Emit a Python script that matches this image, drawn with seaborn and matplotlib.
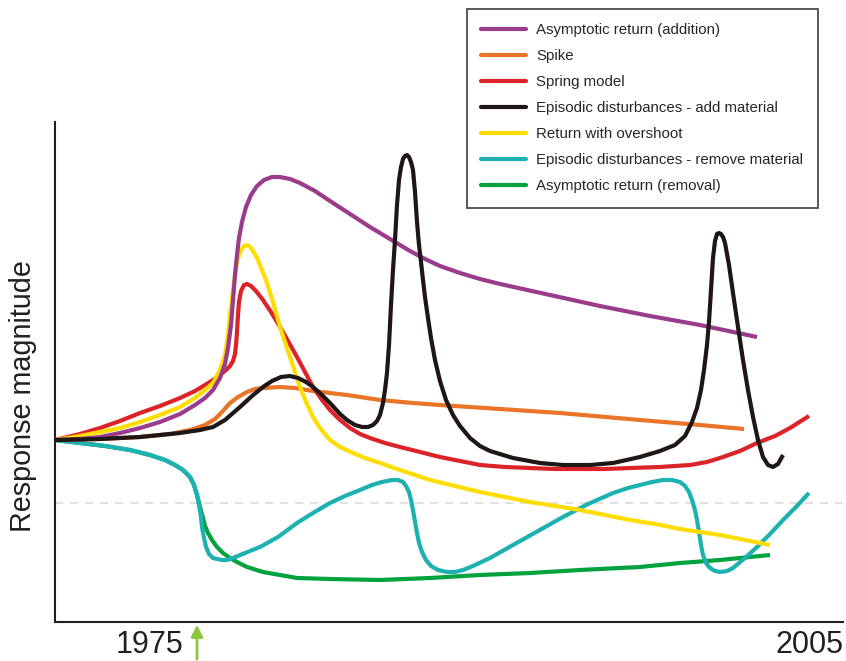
import numpy as np
import pandas as pd
import seaborn as sns
import matplotlib.pyplot as plt

# curves, x and y in picture pixels (y grows downward)
purple_x = [55, 80, 100, 120, 140, 160, 180, 195, 205, 213, 220, 225, 228, 231, 233, 235, 237, 239, 242, 246, 251, 257, 264, 272, 280, 290, 300, 315, 330, 350, 370, 390, 410, 425, 440, 460, 480, 500, 550, 600, 650, 700, 757]
purple_y = [440, 439, 437, 433, 428, 422, 414, 405, 398, 390, 378, 364, 348, 325, 300, 275, 255, 238, 222, 207, 195, 186, 180, 177, 177, 179, 183, 191, 201, 214, 227, 239, 251, 259, 266, 273, 279, 284, 295, 306, 316, 325, 337]

orange_x = [55, 100, 140, 170, 190, 205, 215, 222, 230, 238, 247, 255, 263, 280, 295, 313, 347, 380, 413, 440, 500, 560, 640, 700, 744]
orange_y = [440, 439, 437, 434, 430, 425, 419, 412, 403, 397, 392, 389, 388, 387, 388, 391, 395, 400, 403, 405, 409, 413, 420, 425, 429]

red_x = [55, 80, 100, 120, 140, 160, 180, 195, 205, 213, 220, 226, 230, 233, 235, 236, 237, 238, 239, 241, 244, 247, 251, 256, 263, 271, 280, 288, 297, 305, 313, 322, 330, 340, 350, 360, 370, 385, 400, 420, 440, 460, 480, 505, 530, 555, 580, 605, 630, 660, 690, 707, 723, 740, 757, 775, 790, 809]
red_y = [440, 434, 428, 421, 413, 406, 398, 391, 385, 380, 375, 370, 366, 361, 354, 345, 332, 315, 302, 291, 285, 284, 286, 291, 300, 312, 327, 341, 357, 372, 387, 400, 410, 420, 428, 434, 438, 443, 447, 452, 457, 461, 465, 467, 468, 469, 469, 469, 468, 467, 465, 462, 457, 451, 443, 436, 428, 416]

black_x = [55, 100, 140, 180, 200, 213, 225, 240, 252, 263, 272, 281, 290, 298, 306, 313, 322, 330, 340, 347, 355, 362, 368, 373, 377, 380, 383, 385, 387, 389, 391, 393, 395, 397, 399, 401, 403, 405, 407, 409, 411, 413, 415, 417, 419, 421, 423, 425, 428, 431, 435, 440, 446, 453, 460, 470, 480, 490, 513, 540, 563, 590, 613, 640, 660, 675, 685, 692, 697, 701, 704, 707, 709, 711, 713, 715, 717, 719, 721, 723, 725, 729, 733, 738, 743, 748, 753, 758, 763, 768, 773, 778, 783]
black_y = [440, 439, 437, 433, 430, 427, 420, 407, 396, 387, 381, 377, 376, 378, 382, 387, 395, 403, 414, 420, 425, 427, 427, 425, 421, 415, 403, 390, 373, 345, 305, 270, 240, 205, 180, 167, 159, 156, 155, 157, 162, 170, 192, 222, 245, 262, 280, 297, 318, 338, 360, 381, 400, 415, 426, 438, 446, 451, 458, 463, 465, 465, 463, 457, 451, 445, 436, 422, 408, 390, 370, 345, 322, 290, 258, 241, 234, 233, 234, 237, 243, 265, 293, 327, 360, 390, 417, 440, 457, 465, 467, 464, 455]

yellow_x = [55, 80, 100, 120, 140, 160, 180, 195, 205, 213, 220, 225, 228, 230, 232, 234, 236, 238, 241, 244, 247, 250, 253, 257, 262, 267, 273, 280, 285, 290, 295, 300, 306, 313, 320, 330, 340, 353, 365, 380, 400, 430, 455, 480, 505, 530, 555, 580, 605, 630, 655, 680, 700, 720, 745, 770]
yellow_y = [440, 436, 432, 428, 422, 415, 407, 398, 390, 383, 370, 355, 335, 315, 298, 282, 268, 258, 250, 246, 245, 247, 251, 258, 270, 283, 302, 327, 342, 357, 372, 387, 402, 417, 428, 440, 447, 453, 458, 463, 470, 480, 486, 492, 497, 502, 506, 510, 515, 520, 524, 529, 532, 535, 540, 545]

teal_x = [55, 80, 105, 130, 150, 165, 175, 183, 190, 194, 197, 199, 201, 202, 204, 206, 209, 213, 217, 222, 227, 233, 245, 260, 278, 297, 313, 330, 345, 360, 372, 382, 392, 398, 403, 406, 409, 411, 413, 415, 417, 419, 422, 426, 431, 438, 447, 455, 463, 473, 490, 513, 538, 563, 588, 613, 628, 640, 652, 663, 672, 680, 685, 689, 692, 695, 697, 699, 701, 703, 706, 710, 715, 720, 727, 733, 745, 757, 770, 783, 796, 809]
teal_y = [440, 443, 446, 450, 455, 460, 465, 470, 477, 485, 495, 505, 517, 527, 538, 547, 554, 558, 559, 560, 560, 558, 553, 547, 537, 523, 513, 503, 496, 490, 485, 482, 480, 480, 482, 486, 492, 500, 510, 522, 533, 543, 552, 560, 566, 570, 572, 572, 570, 566, 558, 545, 531, 517, 504, 493, 488, 485, 482, 480, 480, 482, 486, 492, 500, 510, 520, 532, 545, 555, 563, 568, 571, 572, 571, 568, 558, 547, 534, 520, 507, 493]

green_x = [55, 80, 105, 130, 150, 165, 175, 183, 190, 194, 197, 200, 203, 205, 208, 212, 217, 223, 230, 237, 247, 263, 280, 297, 330, 380, 430, 480, 530, 580, 640, 680, 720, 770]
green_y = [440, 443, 446, 450, 455, 460, 465, 470, 477, 485, 495, 507, 518, 526, 533, 540, 547, 553, 558, 562, 567, 572, 575, 578, 579, 580, 578, 575, 573, 570, 567, 563, 560, 555]

labels = ["Asymptotic return (addition)", "Spike", "Spring model",
          "Episodic disturbances - add material", "Return with overshoot",
          "Episodic disturbances - remove material", "Asymptotic return (removal)"]
colors = ["#9A3B8C", "#EA7427", "#DC2327", "#1E1715", "#FFDD00", "#1DB1B1", "#00A23E"]
series = [(purple_x, purple_y), (orange_x, orange_y), (red_x, red_y), (black_x, black_y),
          (yellow_x, yellow_y), (teal_x, teal_y), (green_x, green_y)]
zorders = [7, 4, 5, 8, 6, 3, 2]

BASE = 622  # pixel row of the x axis

sns.set_style("white")
plt.rcParams['font.family'] = ['Liberation Sans', 'DejaVu Sans']

fig = plt.figure(figsize=(8.46, 6.61), dpi=100)
ax = fig.add_axes([55 / 846, 1 - BASE / 661, 788 / 846, 500 / 661])

handles = []
for (xs, ys), lab, col, z in zip(series, labels, colors, zorders):
    df = pd.DataFrame({"x": xs, "y": BASE - np.array(ys)})
    sns.lineplot(data=df, x="x", y="y", sort=False, estimator=None, color=col,
                 lw=3.0, ax=ax, zorder=z, solid_capstyle="butt", solid_joinstyle="round")
    handles.append(plt.Line2D([], [], color=col, lw=3.0))

# dashed reference level
ax.axhline(BASE - 503, color="#dcdcdc", lw=1.2, ls=(0, (5, 4)), zorder=1)

ax.set_xlim(55, 843)
ax.set_ylim(0, 500)
ax.set_xticks([])
ax.set_yticks([])
ax.set_xlabel("")
ax.set_ylabel("")
for s in ["top", "right"]:
    ax.spines[s].set_visible(False)
for s in ["left", "bottom"]:
    ax.spines[s].set_color("#231f20")
    ax.spines[s].set_linewidth(1.5)

fig.text(23 / 846, 1 - 396 / 661, "Response magnitude", rotation=90,
         ha="center", va="center", fontsize=20.7, color="#231f20")
fig.text(149 / 846, 1 - 645 / 661, "1975", ha="center", va="center", fontsize=22, color="#231f20")
fig.text(809 / 846, 1 - 645 / 661, "2005", ha="center", va="center", fontsize=22, color="#231f20")

# green arrow marking the disturbance
ax.annotate("", xy=(197, 0), xytext=(197, -40), xycoords="data", textcoords="data",
            annotation_clip=False,
            arrowprops=dict(arrowstyle="-|>,head_length=0.7,head_width=0.35", color="#8DC63F", lw=2))

leg = fig.legend(handles, labels, loc="upper left", bbox_to_anchor=(467 / 846, 1 - 9 / 661),
                 borderaxespad=0, fontsize=10.8, handlelength=3.0, handletextpad=0.67,
                 labelspacing=0.8, borderpad=0.95, fancybox=False, frameon=True)
leg.get_frame().set_edgecolor("#231f20")
leg.get_frame().set_linewidth(1.3)

fig.savefig("out.png", dpi=100)
